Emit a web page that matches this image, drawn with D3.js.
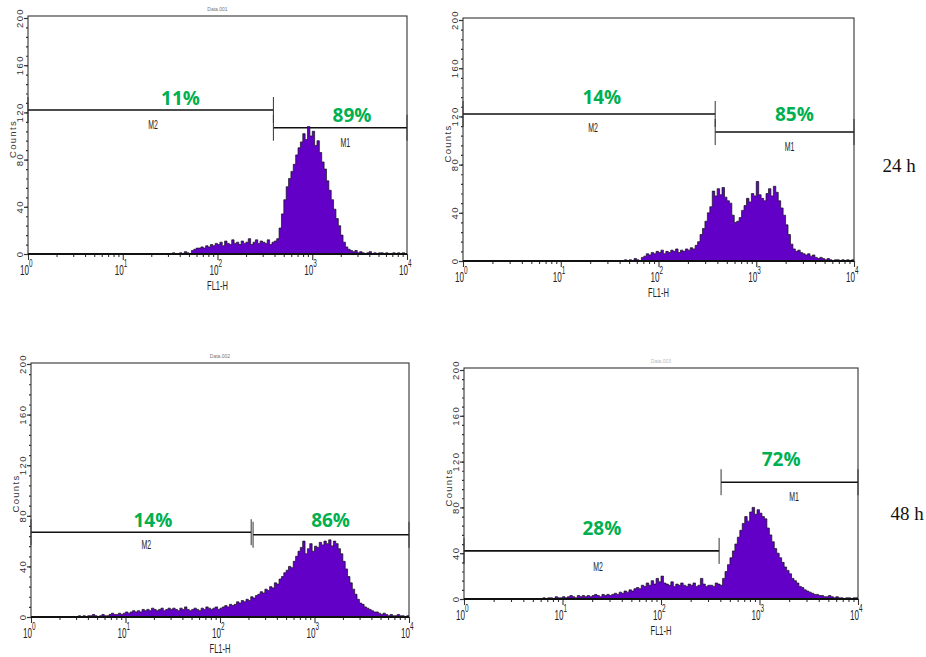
<!DOCTYPE html>
<html>
<head>
<meta charset="utf-8">
<script src="https://cdn.jsdelivr.net/npm/d3@7"></script>
<style>
  html, body { margin: 0; padding: 0; background: #fff; }
  svg { display: block; }
</style>
</head>
<body>
<svg id="chart" width="926" height="657"></svg>
<script>
// FL1-H histograms, one channel bin every 0.025 decades, starting at histStart (log10)
const BIN = 0.025
const DECADES = [1, 10, 100, 1000, 10000]
const COUNT_TICKS = [0, 40, 80, 120, 160, 200]
const timeLabels = ["24 h", "48 h"]

const histStart = [1.5, 1.65, 0.5, 0.8]

const hist24a = [
  0, 1, 0, 0, 1, 0, 2, 1, 0, 3,
  4, 5, 5, 6, 5, 7, 6, 8, 7, 9,
  8, 10, 7, 11, 9, 8, 12, 9, 10, 8,
  11, 9, 10, 13, 8, 10, 12, 9, 11, 10,
  9, 12, 8, 10, 11, 13,
  22, 34, 46, 57,
  64, 70, 76, 84, 90, 95, 102, 97, 108, 100,
  104, 92, 96, 86, 78, 72, 62, 54, 46, 38,
  30, 24, 16, 10, 6, 4, 3, 2, 3, 1,
  2, 1, 0, 1, 2, 0, 1, 0, 1, 1, 0, 1, 0, 0, 1, 0, 1, 0, 1, 0
]

const hist24b = [
  1, 0, 1, 0, 2, 1, 0, 3,
  4, 6, 5, 7, 6, 8, 7, 9, 6, 8,
  7, 9, 8, 10, 7, 9, 8, 10, 9, 11,
  10, 13, 16, 22, 27, 33, 40, 45,
  58, 54, 60, 55, 61, 53, 50, 48,
  38, 32, 33, 36, 42, 46,
  52, 49, 56, 54, 66, 55, 52, 50,
  56, 60, 54, 62, 57, 50, 44, 38,
  30, 22, 14, 10, 8, 9, 7, 6,
  5, 6, 4, 5, 3, 2, 3, 2,
  1, 2, 1, 0, 1, 1, 0, 1, 0, 1, 0, 1
]

const hist48a = [
  1, 0, 1, 0, 1, 1, 2, 1, 0, 1, 2, 1, 1, 2, 3, 2, 2, 3, 2, 3,
  4, 3, 4, 5, 4, 5, 4, 6, 5, 6, 5, 7, 6, 5, 6, 7, 5, 6, 7, 6,
  7, 6, 5, 7, 6, 8, 6, 5, 6, 7, 6, 5, 7, 6, 8, 7, 6, 7, 8, 6,
  7, 8, 9, 8, 10, 9, 10, 12, 11, 13,
  12, 14, 13, 16, 15, 17, 18, 20, 19, 22,
  21, 24, 23, 27, 26, 30, 32, 35, 37, 40,
  39, 44, 48, 52, 55, 60, 50, 54, 58, 52,
  56, 55, 59, 57, 60, 58, 61, 56, 60, 58,
  54, 50, 44, 38, 32, 27, 22, 18, 14, 11,
  10, 8, 7, 6, 5, 4, 4, 3, 2, 3,
  2, 1, 2, 1, 1, 2, 1, 1, 0, 1
]

const hist48b = [
  1, 0, 1, 1, 0, 2, 1, 1,
  2, 1, 2, 3, 2, 1, 3, 2, 3, 2,
  3, 2, 3, 4, 3, 2, 4, 3, 4, 3,
  4, 5, 4, 6, 5, 7, 6, 8, 7, 9,
  10, 9, 12, 11, 14, 12, 16, 13, 18, 15,
  20, 14, 13, 12, 15, 11, 13, 12, 14, 12,
  11, 13, 12, 14, 11, 12, 18, 13, 11, 12,
  12, 11, 14, 13, 12, 18, 24, 30, 36, 42,
  48, 54, 60, 66, 72, 68, 76, 80, 74, 78,
  75, 72, 70, 62, 56, 50, 44, 40, 36, 32,
  28, 25, 22, 18, 16, 14, 11, 10, 8, 7,
  6, 5, 4, 4, 3, 3, 2, 2, 3, 2,
  1, 2, 1, 1, 0, 1, 1, 0, 1, 1
]

const histograms = [hist24a, hist24b, hist48a, hist48b]

// marker gates: [from, to] in log10 FL1, bar drawn at a count level
const gateM2 = [[0, 2.59, 122], [0, 2.58, 122], [0, 2.33, 67], [0, 2.59, 42]]
const gateM1 = [[2.59, 4, 107], [2.58, 4, 107], [2.35, 4, 65], [2.61, 4, 102]]
const pctM2 = ["11%", "14%", "14%", "28%"]
const pctM1 = ["89%", "85%", "86%", "72%"]

// label anchors as [log10 FL1, counts]
const pctM2Pos = [[1.61, 132], [1.42, 136], [1.29, 77], [1.40, 62]]
const pctM1Pos = [[3.42, 118], [3.39, 122], [3.17, 77], [3.22, 122]]
const nameM2Pos = [[1.32, 109], [1.33, 110], [1.22, 57], [1.36, 28]]
const nameM1Pos = [[3.35, 94], [3.34, 95], [3.17, 53], [3.35, 89]]
const fileNames = ["Data.001", "", "Data.002", "Data.003"]

// panel frames in page pixels
const frames = [
  { left: 28, right: 407, boxTop: 16, y0: 254, y200: 18 },
  { left: 463, right: 854, boxTop: 18, y0: 261, y200: 20 },
  { left: 31, right: 409, boxTop: 363, y0: 617, y200: 364 },
  { left: 464, right: 858, boxTop: 368, y0: 599, y200: 370 }
]

const PURPLE = "#6200c8"
const GREEN = "#00b050"
const svg = d3.select("#chart")

function narrowText(sel, x, y, txt, size, anchor) {
  return sel.append("text")
    .attr("transform", `translate(${x},${y}) scale(0.58,1)`)
    .attr("text-anchor", anchor || "middle")
    .style("font-family", "Liberation Sans, Arial, sans-serif")
    .style("font-size", size + "px")
    .attr("fill", "#222")
    .text(txt)
}

frames.forEach((f, i) => {
  const g = svg.append("g")
  const x = d3.scaleLog().domain([1, 1e4]).range([f.left, f.right])
  const y = d3.scaleLinear().domain([0, 200]).range([f.y0, f.y200])
  const lx = v => x(Math.pow(10, v))

  // frame
  g.append("rect")
    .attr("x", f.left).attr("y", f.boxTop)
    .attr("width", f.right - f.left).attr("height", f.y0 - f.boxTop)
    .attr("fill", "none").attr("stroke", "#333").attr("stroke-width", 1.1)

  if (fileNames[i]) {
    g.append("text")
      .attr("x", (f.left + f.right) / 2).attr("y", f.boxTop - 5)
      .attr("text-anchor", "middle")
      .style("font-family", "Liberation Sans, Arial, sans-serif")
      .style("font-size", "5px")
      .attr("fill", i === 3 ? "#bbb" : "#777")
      .text(fileNames[i])
  }

  // y axis: minor every 8, labelled every 40
  const yMinor = d3.axisLeft(y).tickValues(d3.range(0, 201, 8)).tickSize(2).tickFormat("").tickSizeOuter(0)
  const yMajor = d3.axisLeft(y).tickValues(COUNT_TICKS).tickSize(4).tickFormat("").tickSizeOuter(0)
  ;[yMinor, yMajor].forEach(ax => {
    const a = g.append("g").attr("transform", `translate(${f.left},0)`).call(ax)
    a.select(".domain").remove()
    a.selectAll("line").attr("stroke", "#333").attr("stroke-width", 1.2)
  })
  COUNT_TICKS.forEach(t => {
    g.append("text")
      .attr("transform", `translate(${f.left - 9},${y(t)}) rotate(-90)`)
      .attr("text-anchor", "middle")
      .attr("dominant-baseline", "central")
      .style("font-family", "Liberation Sans, Arial, sans-serif")
      .style("font-size", "9.5px")
      .style("letter-spacing", "1.4px")
      .attr("fill", "#333")
      .text(t)
  })
  g.append("text")
    .attr("transform", `translate(${f.left - 16},${(f.y0 + f.y200) / 2 + 3}) rotate(-90)`)
    .attr("text-anchor", "middle")
    .attr("dominant-baseline", "central")
    .style("font-family", "Liberation Sans, Arial, sans-serif")
    .style("font-size", "9.5px")
    .style("letter-spacing", "1.3px")
    .attr("fill", "#333")
    .text("Counts")

  // x axis: log decades
  const minor = []
  for (let d = 0; d < 4; d++) for (let m = 2; m <= 9; m++) minor.push(m * Math.pow(10, d))
  const xMinor = d3.axisBottom(x).tickValues(minor).tickSize(3).tickFormat("").tickSizeOuter(0)
  const xMajor = d3.axisBottom(x).tickValues(DECADES).tickSize(6).tickFormat("").tickSizeOuter(0)
  ;[xMinor, xMajor].forEach(ax => {
    const a = g.append("g").attr("transform", `translate(0,${f.y0})`).call(ax)
    a.select(".domain").remove()
    a.selectAll("line").attr("stroke", "#333").attr("stroke-width", 1.1)
  })
  DECADES.forEach((d, k) => {
    narrowText(g, x(d) + 1, f.y0 + 21, "10", 14, "end")
    narrowText(g, x(d) + 1, f.y0 + 13, String(k), 11, "start")
  })
  narrowText(g, lx(2), f.y0 + 36, "FL1-H", 13)

  // gates
  const drawGate = (gate, name, namePos) => {
    const gy = y(gate[2])
    g.append("line")
      .attr("x1", lx(gate[0])).attr("x2", lx(gate[1]))
      .attr("y1", gy).attr("y2", gy)
      .attr("stroke", "#111").attr("stroke-width", 1.6)
    ;[gate[0], gate[1]].forEach(v => {
      g.append("line")
        .attr("x1", lx(v)).attr("x2", lx(v))
        .attr("y1", gy - 13).attr("y2", gy + 13)
        .attr("stroke", "#333").attr("stroke-width", 1)
    })
    narrowText(g, lx(namePos[0]), y(namePos[1]) + 4, name, 12)
  }
  drawGate(gateM2[i], "M2", nameM2Pos[i])
  drawGate(gateM1[i], "M1", nameM1Pos[i])

  // histogram
  const counts = histograms[i]
  const pts = counts.map((c, k) => [histStart[i] + k * BIN, c])
  pts.push([histStart[i] + counts.length * BIN, counts[counts.length - 1]])
  const area = d3.area()
    .x(d => lx(Math.min(d[0], 4)))
    .y0(f.y0)
    .y1(d => y(d[1]))
    .curve(d3.curveStepAfter)
  const line = d3.line()
    .x(d => lx(Math.min(d[0], 4)))
    .y(d => y(d[1]))
    .curve(d3.curveStepAfter)
  g.append("path").attr("d", area(pts)).attr("fill", PURPLE)
  g.append("path").attr("d", line(pts))
    .attr("fill", "none").attr("stroke", "#111").attr("stroke-width", 0.7)

  // zero line
  g.append("line")
    .attr("x1", f.left).attr("x2", f.right)
    .attr("y1", f.y0).attr("y2", f.y0)
    .attr("stroke", "#111").attr("stroke-width", 2.2)

  // percentages
  const pct = (txt, pos) => g.append("text")
    .attr("x", lx(pos[0])).attr("y", y(pos[1]))
    .attr("text-anchor", "middle")
    .attr("dominant-baseline", "central")
    .style("font-family", "Open Sans, Lato, sans-serif")
    .style("font-weight", 700)
    .style("font-size", "19px")
    .attr("fill", GREEN)
    .text(txt)
  pct(pctM2[i], pctM2Pos[i])
  pct(pctM1[i], pctM1Pos[i])
})

// time point labels
svg.append("text").attr("x", 899).attr("y", 165)
  .attr("text-anchor", "middle").attr("dominant-baseline", "central")
  .style("font-family", "Liberation Serif, Times New Roman, serif")
  .style("font-size", "19px").attr("fill", "#111")
  .text(timeLabels[0])
svg.append("text").attr("x", 907).attr("y", 513)
  .attr("text-anchor", "middle").attr("dominant-baseline", "central")
  .style("font-family", "Liberation Serif, Times New Roman, serif")
  .style("font-size", "19px").attr("fill", "#111")
  .text(timeLabels[1])
</script>
</body>
</html>
